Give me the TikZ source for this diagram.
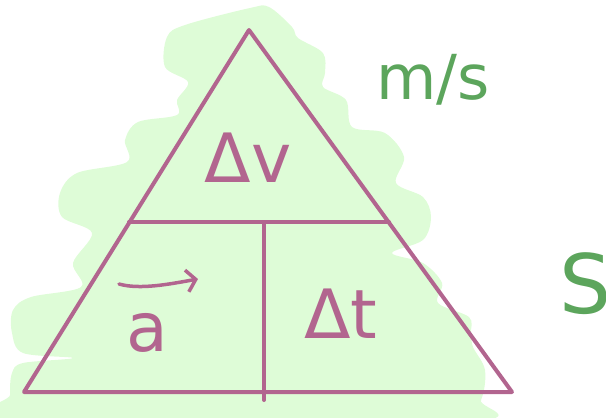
\documentclass[tikz,border=0pt]{standalone}
\usepackage{fontspec}
\setmainfont{DejaVu Sans}
\usetikzlibrary{arrows.meta,calc}
\definecolor{mauve}{HTML}{B2658F}
\definecolor{leaf}{HTML}{5CA55C}
\definecolor{blob}{HTML}{DEFCD7}
\begin{document}
\begin{tikzpicture}[x=1pt,y=-1pt,
  edge/.style={draw=mauve,line width=4pt,line cap=round,line join=round},
  lbl/.style={text=mauve,font=\fontsize{68}{72}\selectfont,inner sep=0pt},
  unit/.style={text=leaf,font=\fontsize{62}{66}\selectfont,inner sep=0pt}]
\useasboundingbox (0,0) rectangle (606,418);
\clip (0,0) rectangle (606,418);
\fill[blob] plot[smooth cycle, tension=0.55] coordinates {
 (167,37) (185,25) (250,8) (269,7) (292,27) (298,38) (323,53) (325,73)
 (323,87) (346,100) (352,127) (385,133) (404,157) (396,183) (423,197)
 (431,217) (423,240) (392,253) (423,263) (442,283) (438,303) (469,317)
 (471,333) (473,347) (485,370) (481,400) (462,422) (12,422) (10,395)
 (12,373) (23,363) (73,358) (23,353) (12,333) (13,310) (31,297) (81,287)
 (73,263) (92,233) (62,217) (60,193) (77,173) (127,162) (125,140)
 (138,122) (177,115) (177,100) (188,82) (165,67)};
\coordinate (top) at (249,30);
\coordinate (bl) at (24,392);
\coordinate (br) at (512,392);
\coordinate (ml) at (129,222);
\coordinate (mr) at (389,222);
\coordinate (mt) at (264,222);
\coordinate (mb) at (264,400);
\draw[edge] (top) -- (bl) -- (br) -- cycle;
\draw[edge] (ml) -- (mr);
\draw[edge] (mt) -- (mb);
\node[lbl] (dv) at (248,158) {Δv};
\node[lbl] (acc) at (147,333) {a};
\node[lbl] (dt) at (341,314) {Δt};
\coordinate (arrtail) at (119,284);
\coordinate (arrhead) at (198,279);
\draw[mauve,line width=3.5pt,line cap=round,-{Straight Barb[length=9pt,width=22pt]}]
  (arrtail) .. controls (140,290) and (170,284) .. (arrhead);
\node[unit] (ms) at (433,80) {m/s};
\node[unit,font=\fontsize{82}{86}\selectfont] (sec) at (586,284) {S};
\end{tikzpicture}
\end{document}
